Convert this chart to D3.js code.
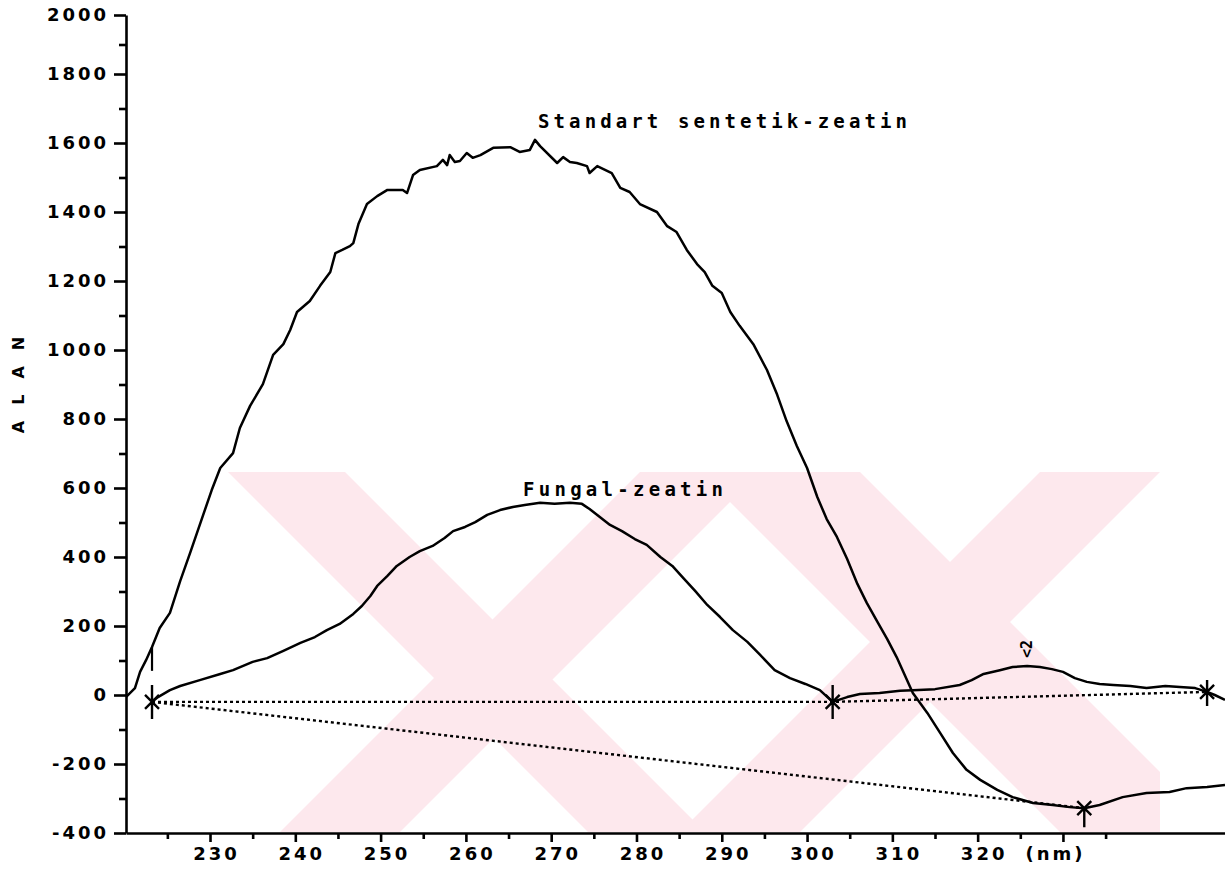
<!DOCTYPE html>
<html>
<head>
<meta charset="utf-8">
<title>Zeatin UV</title>
<script src="https://cdn.jsdelivr.net/npm/d3@7"></script>
<style>
body { margin: 0; background: #fff; }
text { fill: #000; }
</style>
</head>
<body>
<script>

// wavelength (nm) ticks and detector response (ALAN) ticks
var nmTicks = [230, 240, 250, 260, 270, 280, 290, 300, 310, 320, 330];
var nmMinor = [225, 235, 245, 255, 265, 275, 285, 295, 305, 315, 325, 335];
var alanTicks = [-400, -200, 0, 200, 400, 600, 800, 1000, 1200, 1400, 1600, 1800, 2000];
var alanMinor = [-300, -100, 100, 300, 500, 700, 900, 1100, 1300, 1500, 1700, 1900];

// Standart sentetik-zeatin trace [nm, value]
var standard = [
	[220.2, -5], [221.2, 20], [221.8, 67], [222.5, 101], [223.2, 139], [224.1, 194],
	[225.3, 238], [226.5, 330], [227.7, 414], [229.2, 522], [230.2, 594], [231.2, 658],
	[232.7, 701], [233.5, 774], [234.7, 838], [236.2, 901], [237.4, 986], [238.6, 1017],
	[239.4, 1058], [240.2, 1110], [241.7, 1142], [242.9, 1186], [244.1, 1226], [244.7, 1281],
	[245.5, 1290], [246.4, 1301], [246.8, 1310], [247.4, 1365], [248.4, 1423], [249.6, 1446],
	[250.8, 1464], [252.6, 1464], [253.1, 1455], [253.8, 1507], [254.6, 1522], [256.6, 1533],
	[257.3, 1551], [257.8, 1536], [258.1, 1565], [258.7, 1545], [259.3, 1548], [260.1, 1571],
	[260.8, 1557], [261.7, 1565], [263.2, 1586], [265.2, 1588], [266.3, 1574], [267.5, 1580],
	[268.1, 1609], [268.7, 1591], [270.7, 1542], [271.4, 1559], [272.2, 1545], [273.0, 1542],
	[274.2, 1533], [274.5, 1513], [275.4, 1533], [277.1, 1513], [278.1, 1470], [279.2, 1458],
	[280.4, 1423], [282.4, 1400], [283.6, 1359], [284.7, 1342], [285.9, 1290], [287.1, 1249],
	[288.0, 1226], [288.9, 1186], [290.0, 1165], [291.0, 1110], [292.1, 1070], [293.7, 1017],
	[295.3, 942], [296.5, 870], [297.6, 794], [298.8, 722], [300.0, 658], [301.2, 574],
	[302.3, 510], [303.5, 458], [304.7, 394], [305.9, 322], [307.0, 267], [308.2, 214],
	[309.4, 162], [310.5, 110], [312.4, 6], [314.1, -52], [315.6, -110], [317.1, -168],
	[318.7, -217], [320.3, -246], [322.3, -275], [324.1, -296], [326.5, -313], [328.8, -319],
	[330.8, -325], [332.5, -328], [334.3, -319], [337.0, -296], [339.8, -284], [342.5, -281],
	[344.5, -270], [346.9, -267], [349.0, -261]
];

// Fungal-zeatin trace [nm, value]
var fungal = [
	[223.2, -20], [223.9, -6], [225.3, 14], [226.5, 26], [228.8, 43], [231.2, 61],
	[232.7, 72], [235.0, 96], [236.7, 107], [238.6, 128], [240.6, 151], [242.3, 168],
	[243.7, 188], [245.2, 206], [246.8, 235], [247.8, 258], [248.8, 287], [249.6, 316],
	[250.8, 345], [251.9, 374], [253.4, 400], [254.6, 417], [256.1, 432], [257.5, 455],
	[258.5, 475], [259.9, 487], [261.1, 501], [262.5, 522], [264.0, 536], [265.5, 545],
	[266.9, 551], [268.7, 557], [270.4, 554], [272.2, 557], [273.6, 554], [274.5, 539],
	[275.7, 516], [276.9, 493], [278.3, 475], [279.8, 452], [281.2, 435], [282.8, 400],
	[284.2, 374], [285.5, 339], [286.9, 301], [288.3, 261], [289.8, 226], [291.3, 188],
	[293.0, 154], [294.5, 116], [296.2, 72], [298.0, 49], [299.8, 32], [301.5, 14],
	[303.0, -20], [304.7, -6], [306.2, 3], [308.5, 6], [310.9, 12], [312.4, 14],
	[315.0, 17], [317.9, 29], [319.3, 43], [320.7, 61], [322.6, 72], [324.1, 81],
	[325.8, 84], [327.3, 81], [328.7, 75], [330.0, 67], [331.4, 49], [332.8, 38],
	[334.3, 32], [335.9, 29], [337.9, 26], [339.8, 20], [342.0, 26], [343.7, 23],
	[345.5, 20], [346.9, 9], [347.8, 0], [349.0, -14]
];

// integration baselines (dotted)
var fungalBase = [[223.2, -20], [303.0, -20], [346.9, 9]];
var standardBase = [[223.2, -20], [332.5, -328]];

// integration marks: [nm, value, stem up, stem down]
var marks = [
	[223.2, -20, 17, 17],
	[303.0, -20, 17, 17],
	[346.9, 9, 12, 14],
	[332.5, -328, 0, 19]
];
var standardStartTick = [223.2, 70, 140];

var W = 1225, H = 870;

var svg = d3.select("body").append("svg")
	.attr("width", W)
	.attr("height", H);

var x = d3.scaleLinear().domain([220.15, 349]).range([126, 1225]);
var y = d3.scaleLinear().domain([-400, 1800, 2000]).range([833, 74, 15]);

// YOK watermark (background)
svg.append("clipPath").attr("id", "wmclip")
	.append("rect").attr("x", 228).attr("y", 472).attr("width", 932).attr("height", 360);
var wm = svg.append("g").attr("fill", "#fde8ed").attr("clip-path", "url(#wmclip)");
var bands = [
	[[228, 472], [345, 472], [705, 832], [588, 832]],
	[[640, 472], [760, 472], [400, 832], [280, 832]],
	[[700, 472], [860, 472], [1220, 832], [1060, 832]],
	[[1040, 472], [1160, 472], [800, 832], [680, 832]]
];
wm.selectAll("polygon").data(bands).enter().append("polygon")
	.attr("points", function(d){ return d.map(function(p){ return p.join(","); }).join(" "); });

// axes
var fontAxis = "'DejaVu Sans', sans-serif";

var yAxis = svg.append("g")
	.attr("transform", "translate(126,0)")
	.call(d3.axisLeft(y).tickValues(alanTicks).tickSize(12).tickSizeOuter(0).tickPadding(5)
		.tickFormat(function(d){ return String(d); }));
svg.append("g")
	.attr("transform", "translate(126,0)")
	.call(d3.axisLeft(y).tickValues(alanMinor).tickSize(7).tickFormat(""))
	.select(".domain").remove();

var xAxis = svg.append("g")
	.attr("transform", "translate(0," + y(-400) + ")")
	.call(d3.axisBottom(x).tickValues(nmTicks).tickSize(9).tickSizeOuter(0).tickPadding(5)
		.tickFormat(function(d){ return d === 330 ? "(nm)" : String(d); }));
svg.append("g")
	.attr("transform", "translate(0," + y(-400) + ")")
	.call(d3.axisBottom(x).tickValues(nmMinor).tickSize(6).tickFormat(""))
	.select(".domain").remove();

svg.selectAll(".domain, .tick line")
	.attr("stroke", "#000")
	.attr("stroke-width", 2.6);
svg.selectAll(".tick text")
	.style("font-family", fontAxis)
	.style("font-weight", "bold")
	.style("font-size", "18px")
	.style("letter-spacing", "3px");
xAxis.selectAll(".tick text").attr("dx", function(d){ return d === 330 ? -8 : 6; });

// y label
svg.append("text")
	.attr("transform", "translate(24,385) rotate(-90)")
	.attr("text-anchor", "middle")
	.style("font-family", "'DejaVu Sans', sans-serif")
	.style("font-weight", "bold")
	.style("font-size", "16px")
	.style("letter-spacing", "16px")
	.attr("dx", 8)
	.text("ALAN");

// traces
var line = d3.line()
	.x(function(d){ return x(d[0]); })
	.y(function(d){ return y(d[1]); });

svg.append("path").datum(standardBase)
	.attr("d", line).attr("fill", "none")
	.attr("stroke", "#000").attr("stroke-width", 2.4).attr("stroke-dasharray", "3,3");
svg.append("path").datum(fungalBase)
	.attr("d", line).attr("fill", "none")
	.attr("stroke", "#000").attr("stroke-width", 2.4).attr("stroke-dasharray", "3,3");

[standard, fungal].forEach(function(s){
	svg.append("path").datum(s)
		.attr("d", line)
		.attr("fill", "none")
		.attr("stroke", "#000")
		.attr("stroke-width", 2.5)
		.attr("stroke-linejoin", "round");
});

// marks
svg.selectAll(".mark").data(marks).enter().append("path")
	.attr("class", "mark")
	.attr("transform", function(d){ return "translate(" + x(d[0]) + "," + y(d[1]) + ")"; })
	.attr("d", function(d){ return "M-7,-7L7,7M-7,7L7,-7M0," + (-d[2]) + "V" + d[3]; })
	.attr("fill", "none").attr("stroke", "#000").attr("stroke-width", 2.4);

svg.append("line")
	.attr("x1", x(standardStartTick[0])).attr("x2", x(standardStartTick[0]))
	.attr("y1", y(standardStartTick[1])).attr("y2", y(standardStartTick[2]))
	.attr("stroke", "#000").attr("stroke-width", 2.2);

// labels
var fontLbl = "'DejaVu Sans Mono', monospace";
svg.append("text")
	.attr("x", 538).attr("y", 128)
	.attr("textLength", 369).attr("lengthAdjust", "spacing")
	.style("font-family", fontLbl).style("font-weight", "bold").style("font-size", "19px")
	.text("Standart sentetik-zeatin");
svg.append("text")
	.attr("x", 523).attr("y", 496)
	.attr("textLength", 200).attr("lengthAdjust", "spacing")
	.style("font-family", fontLbl).style("font-weight", "bold").style("font-size", "19px")
	.text("Fungal-zeatin");
svg.append("text")
	.attr("transform", "translate(" + (x(325.8) + 5) + "," + (y(84) - 8) + ") rotate(-90)")
	.style("font-family", fontLbl).style("font-weight", "bold").style("font-size", "15px")
	.text("<2");

</script>
</body>
</html>
